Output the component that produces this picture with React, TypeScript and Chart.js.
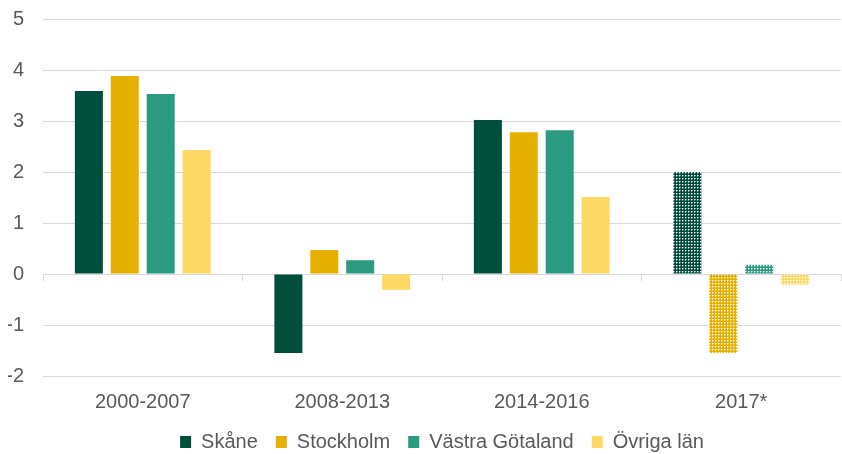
import React, { useEffect, useRef } from "react";
import { Chart, registerables } from "chart.js";

Chart.register(...registerables);

const categories = ["2000-2007", "2008-2013", "2014-2016", "2017*"];
const seriesNames = ["Skåne", "Stockholm", "Västra Götaland", "Övriga län"];
const skane = [3.59, -1.55, 3.02, 2.0];
const stockholm = [3.88, 0.47, 2.78, -1.55];
const vastra = [3.53, 0.27, 2.82, 0.18];
const ovriga = [2.43, -0.31, 1.51, -0.21];
const yTicks = [-2, -1, 0, 1, 2, 3, 4, 5];
const colors = ["#004f3c", "#e6b000", "#2b9a80", "#ffd966"];
const patternedIndex = 3;

function makePattern(color: string): CanvasPattern | string {
  const c = document.createElement("canvas");
  c.width = 3;
  c.height = 3;
  const ctx = c.getContext("2d");
  if (!ctx) return color;
  ctx.fillStyle = color;
  ctx.fillRect(0, 0, 3, 3);
  ctx.fillStyle = "#ffffff";
  ctx.fillRect(1, 1, 1, 1);
  ctx.globalAlpha = 0.5;
  ctx.fillRect(2, 1, 1, 1);
  ctx.fillRect(1, 2, 1, 1);
  const p = ctx.createPattern(c, "repeat");
  return p || color;
}

export default function App() {
  const ref = useRef<HTMLCanvasElement | null>(null);

  useEffect(() => {
    document.body.style.margin = "0";
    if (!ref.current) return;
    const values = [skane, stockholm, vastra, ovriga];
    const datasets = values.map((vals, i) => {
      const pat = makePattern(colors[i]);
      return {
        label: seriesNames[i],
        data: vals,
        backgroundColor: vals.map((_, j) => (j === patternedIndex ? pat : colors[i])),
        borderWidth: 0,
        categoryPercentage: 0.72,
        barPercentage: 0.78,
        xAxisID: "x",
        yAxisID: "y",
      };
    });
    const family = "'Liberation Sans', Arial, sans-serif";
    const axisFont = { family, size: 20 };
    const legendFont = { family, size: 20 };
    const textColor = "#595959";
    const chart = new Chart(ref.current, {
      type: "bar",
      data: { labels: categories, datasets: datasets as any },
      options: {
        animation: false,
        responsive: true,
        maintainAspectRatio: false,
        layout: { padding: { top: 0, left: 8, right: 1, bottom: 0 } },
        plugins: {
          tooltip: { enabled: false },
          legend: {
            position: "bottom",
            fullSize: false,
            maxHeight: 40,
            labels: {
              boxWidth: 11,
              boxHeight: 12,
              padding: 18,
              color: textColor,
              font: legendFont,
              generateLabels: () =>
                seriesNames.map((n, i) => ({
                  text: n,
                  fillStyle: colors[i],
                  strokeStyle: colors[i],
                  lineWidth: 0,
                  hidden: false,
                  datasetIndex: i,
                  fontColor: textColor,
                })),
            },
          },
        },
        scales: {
          x: {
            type: "category",
            position: "bottom",
            grid: { display: false, drawTicks: false },
            border: { display: false },
            ticks: { color: textColor, font: axisFont, padding: 14 },
            afterFit: (scale: any) => {
              scale.height = 38;
            },
          },
          x2: {
            type: "category",
            position: { y: 0 } as any,
            offset: true,
            grid: {
              offset: true,
              drawOnChartArea: false,
              drawTicks: true,
              tickLength: 6,
              color: "#d9d9d9",
            },
            border: { display: true, color: "#d9d9d9" },
            ticks: { display: false },
          },
          y: {
            min: -2,
            max: 5,
            afterBuildTicks: (scale: any) => {
              scale.ticks = yTicks.map((v) => ({ value: v }));
            },
            afterFit: (scale: any) => {
              scale.width = 35;
              scale.paddingTop = 19;
              scale.paddingBottom = 0;
            },
            grid: { color: "#d9d9d9", drawTicks: false },
            border: { display: false },
            ticks: { color: textColor, font: axisFont, padding: 19 },
          },
        },
      } as any,
    });
    return () => chart.destroy();
  }, []);

  return (
    <div style={{ width: 842, height: 454, position: "relative" }}>
      <canvas ref={ref} />
    </div>
  );
}
